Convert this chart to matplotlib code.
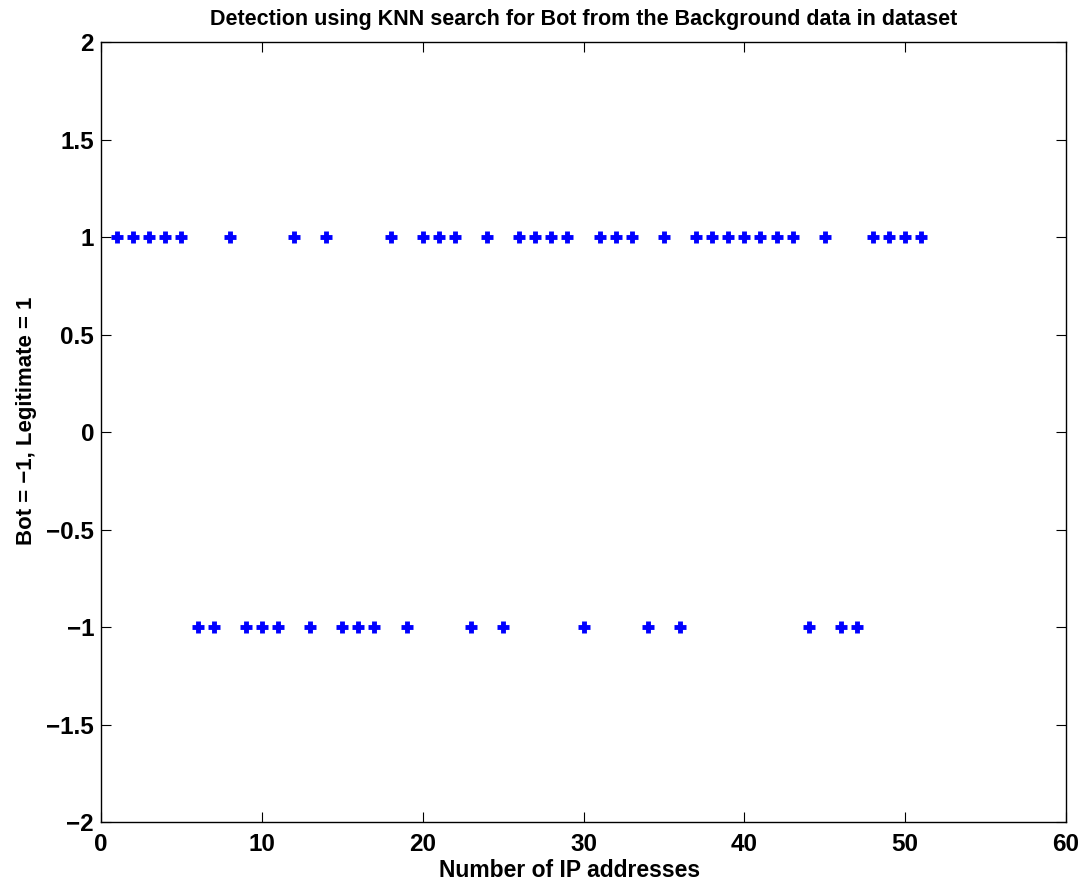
import matplotlib
matplotlib.use("Agg")
import matplotlib.pyplot as plt
import numpy as np

# Classification result per IP address: 1 = legitimate, -1 = bot
ip_index = list(range(1, 52))
labels = [1, 1, 1, 1, 1, -1, -1, 1, -1, -1,
          -1, 1, -1, 1, -1, -1, -1, 1, -1, 1,
          1, 1, -1, 1, -1, 1, 1, 1, 1, -1,
          1, 1, 1, -1, 1, -1, 1, 1, 1, 1,
          1, 1, 1, -1, 1, -1, -1, 1, 1, 1,
          1]

x_ticks = [0, 10, 20, 30, 40, 50, 60]
y_ticks = [-2, -1.5, -1, -0.5, 0, 0.5, 1, 1.5, 2]
y_tick_labels = ["\u22122", "\u22121.5", "\u22121", "\u22120.5", "0", "0.5", "1", "1.5", "2"]

plt.rcParams["font.family"] = ["Liberation Sans", "DejaVu Sans"]
plt.rcParams["font.weight"] = "bold"

fig = plt.figure(figsize=(10.91, 8.86), dpi=100)
ax = fig.add_axes([0.0926, 0.0722, 0.8845, 0.8804])

ax.plot(ip_index, labels, linestyle="none", marker="+", markersize=8.5,
        markeredgewidth=3.5, color="#0000ff")

ax.set_xlim(0, 60)
ax.set_ylim(-2, 2)
ax.set_xticks(x_ticks)
ax.set_xticklabels([str(t) for t in x_ticks], fontsize=17.5, fontweight="bold")
ax.set_yticks(y_ticks)
ax.set_yticklabels(y_tick_labels, fontsize=17.5, fontweight="bold")
ax.tick_params(direction="in", top=True, right=True, length=7, width=0.8,
               color="black")
ax.tick_params(axis="x", pad=8)
ax.tick_params(axis="y", pad=5)
for s in ax.spines.values():
    s.set_linewidth(1.0)

ax.set_title("Detection using KNN search for Bot from the Background data in dataset",
             fontsize=15.5, fontweight="bold", pad=12)
ax.set_xlabel("Number of IP addresses", fontsize=16.5, fontweight="bold")
ax.set_ylabel("Bot = \u22121, Legitimate = 1", fontsize=16, fontweight="bold")
ax.xaxis.set_label_coords(0.486, -0.047)
ax.yaxis.set_label_coords(-0.066, 0.514)

fig.savefig("out.png", dpi=100)
